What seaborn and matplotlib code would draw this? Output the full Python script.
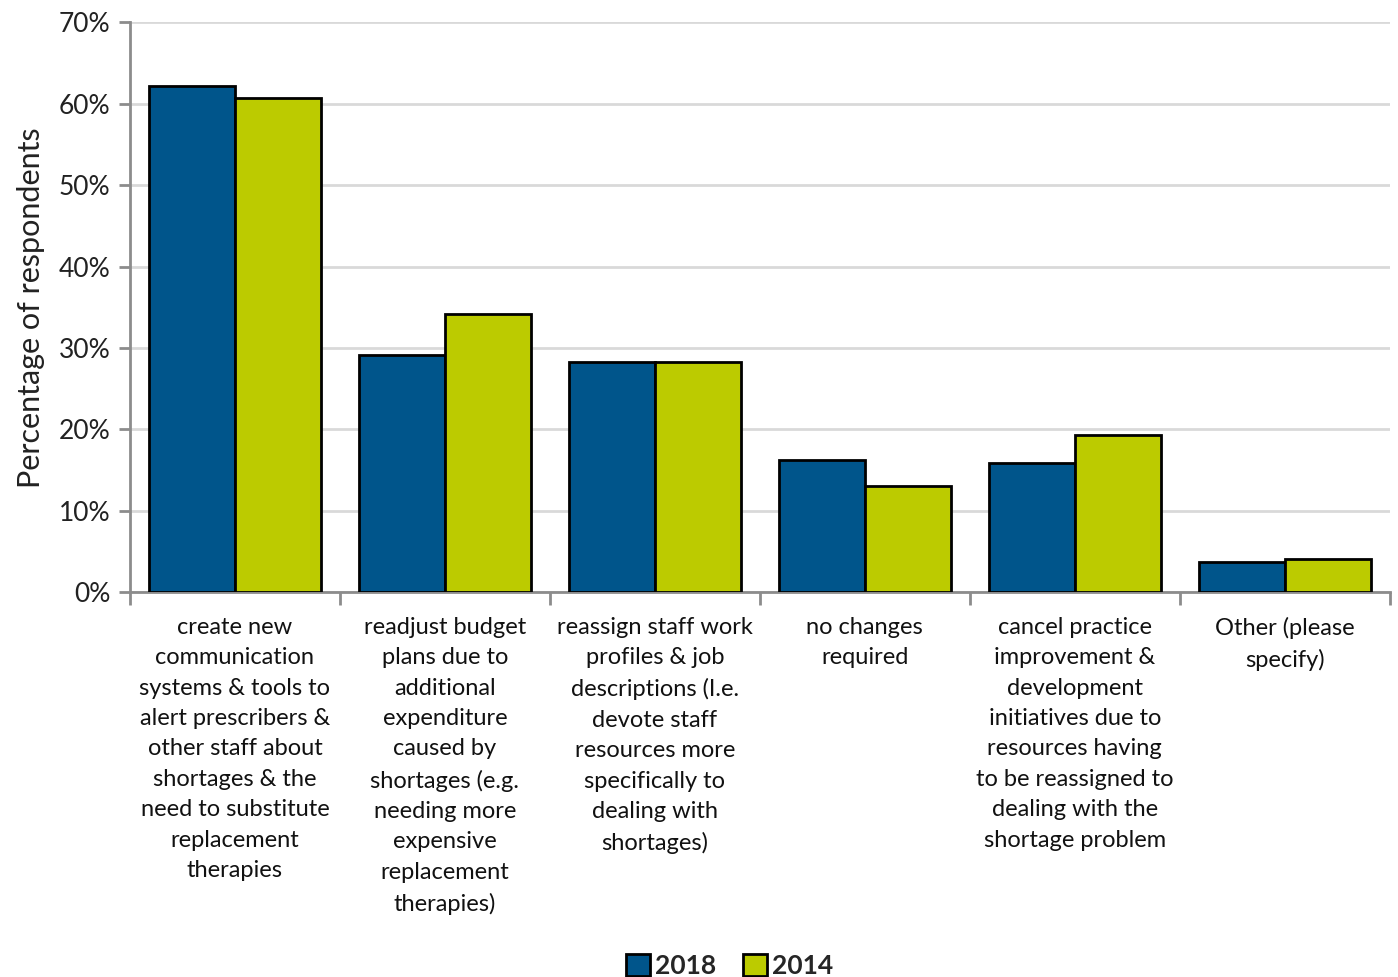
import pandas as pd
import numpy as np
import matplotlib
matplotlib.use('Agg')
import matplotlib.pyplot as plt
import seaborn as sns
from matplotlib.ticker import FixedLocator, PercentFormatter

sns.set_theme(style='white')
plt.rcParams['font.family'] = ['Lato', 'DejaVu Sans']

# data
categories = [
    'create new\ncommunication\nsystems & tools to\nalert prescribers &\nother staff about\nshortages & the\nneed to substitute\nreplacement\ntherapies',
    'readjust budget\nplans due to\nadditional\nexpenditure\ncaused by\nshortages (e.g.\nneeding more\nexpensive\nreplacement\ntherapies)',
    'reassign staff work\nprofiles & job\ndescriptions (I.e.\ndevote staff\nresources more\nspecifically to\ndealing with\nshortages)',
    'no changes\nrequired',
    'cancel practice\nimprovement &\ndevelopment\ninitiatives due to\nresources having\nto be reassigned to\ndealing with the\nshortage problem',
    'Other (please\nspecify)',
]
years = ['2018', '2014']
vals_2018 = [62.2, 29.1, 28.3, 16.2, 15.8, 3.7]
vals_2014 = [60.7, 34.2, 28.3, 13.0, 19.3, 4.1]
colors = ['#00558B', '#BCCB00']

df = pd.DataFrame({
    'category': categories * 2,
    'year': [years[0]] * len(categories) + [years[1]] * len(categories),
    'pct': vals_2018 + vals_2014,
})

fig = plt.figure(figsize=(13.98, 9.77), dpi=100)
ax = fig.add_axes([0.093, 0.394, 0.901, 0.583])

sns.barplot(data=df, x='category', y='pct', hue='year', palette=colors,
            width=0.82, gap=0, edgecolor='black', linewidth=2, ax=ax,
            saturation=1, zorder=3)

ax.set_ylim(0, 70)
ax.set_xlim(-0.5, len(categories) - 0.5)
ax.yaxis.set_major_locator(FixedLocator(np.arange(0, 71, 10)))
ax.yaxis.set_major_formatter(PercentFormatter(decimals=0))
ax.grid(axis='y', color='#D9D9D9', linewidth=2, zorder=0)
ax.set_axisbelow(True)

for s in ['top', 'right']:
    ax.spines[s].set_visible(False)
for s in ['left', 'bottom']:
    ax.spines[s].set_color('#8C8C8C')
    ax.spines[s].set_linewidth(2)

ax.tick_params(axis='y', which='major', left=True, length=8, width=2,
               color='#8C8C8C', labelsize=19, labelcolor='#222222', pad=6)
ax.tick_params(axis='x', which='major', bottom=False, labelsize=17,
               labelcolor='#111111', pad=12)
ax.xaxis.set_minor_locator(FixedLocator(np.arange(-0.5, len(categories), 1)))
ax.tick_params(axis='x', which='minor', bottom=True, length=9, width=2,
               color='#8C8C8C')
ax.set_xticks(range(len(categories)))
ax.set_xticklabels(categories, linespacing=1.55, va='top')

ax.set_xlabel('')
ax.set_ylabel('Percentage of respondents', fontsize=22, color='#222222',
              labelpad=10)

leg = ax.legend(loc='lower center', bbox_to_anchor=(0.522, -0.012), ncol=2,
                bbox_transform=fig.transFigure, frameon=False,
                handlelength=0.9, handleheight=0.9, handletextpad=0.2,
                columnspacing=1.0, borderaxespad=0.0,
                prop={'size': 19, 'weight': 'bold'})
for h in leg.legend_handles:
    h.set_edgecolor('black')
    h.set_linewidth(2)

fig.savefig('out.png', dpi=100)
